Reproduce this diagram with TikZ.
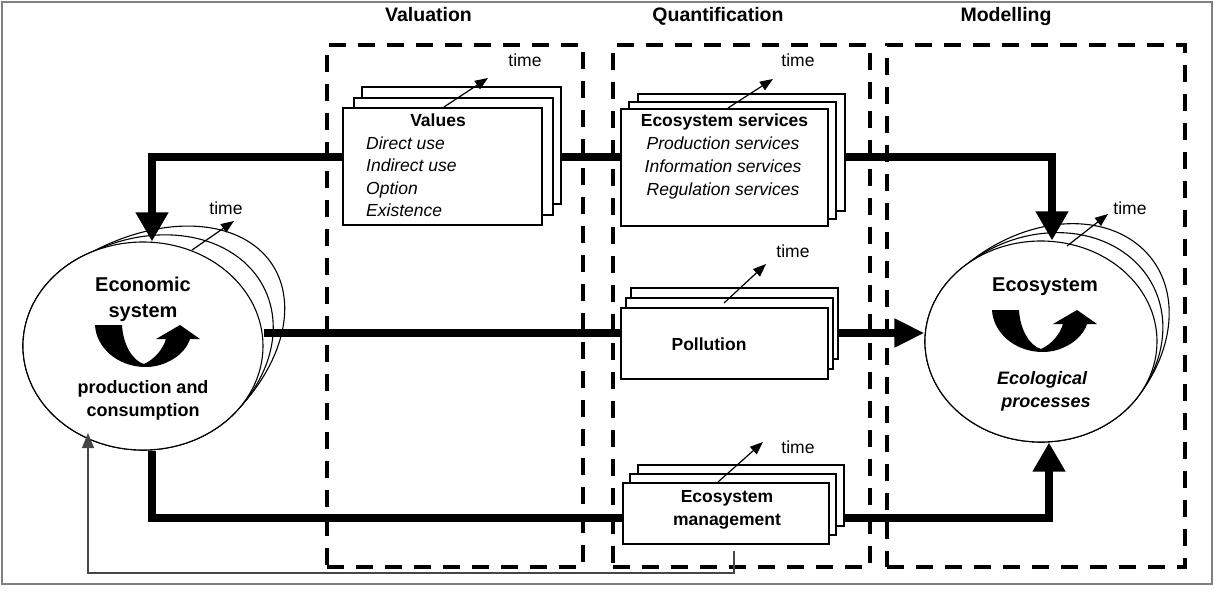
\documentclass[tikz,border=0pt]{standalone}
\usepackage{fontspec}
\setmainfont{Liberation Sans}
\usetikzlibrary{arrows.meta,shapes.geometric,calc}
\definecolor{fbgray}{RGB}{70,70,70}
% back copy of an ellipse: centre (#1,#2), radii #3,#4, stretched by factor #9
% away from the chord through (#5,#6) along the unit normal (#7,#8), on the normal side only
\newcommand\backorb[9]{%
  \draw[fill=white, line width=1.1pt] plot[domain=0:359, samples=360]
   ({#1+#3*cos(\x)+(#9-1)*max((#1+#3*cos(\x)-#5)*(#7)+(#2+#4*sin(\x)-#6)*(#8),0)*(#7)},
    {#2+#4*sin(\x)+(#9-1)*max((#1+#3*cos(\x)-#5)*(#7)+(#2+#4*sin(\x)-#6)*(#8),0)*(#8)}) -- cycle;}
\begin{document}
\begin{tikzpicture}[x=1pt,y=-1pt,
  thickline/.style={line width=7.5pt, line join=miter},
  bighead/.style={-{Triangle[length=29pt,width=31pt]}},
  dbox/.style={draw, line width=4pt, dash pattern=on 17pt off 12pt, inner sep=0pt},
  card/.style={draw, fill=white, line width=2pt, inner sep=0pt},
  orb/.style={draw, fill=white, ellipse, line width=1.1pt, inner sep=0pt},
  timearr/.style={line width=1.2pt, -{Triangle[length=13pt,width=10pt]}},
  txt/.style={font=\fontsize{17.5}{21}\selectfont, inner sep=0pt, anchor=base},
  ttl/.style={font=\fontsize{19.5}{23}\selectfont\bfseries, inner sep=0pt, anchor=base},
  big/.style={font=\fontsize{20}{24}\selectfont\bfseries, inner sep=0pt, anchor=base},
  cyc/.pic={\fill (0,0) -- (27,0) .. controls (28,20) and (38,36) .. (49,39)
      .. controls (60,34) and (68,24) .. (71,14) -- (61,14) -- (85,0) -- (105,14) -- (95,14)
      .. controls (90,30) and (70,42) .. (51,42) .. controls (22,42) and (1,22) .. (0,0) -- cycle;}
]
\useasboundingbox (0,0) rectangle (1214,593);
\draw[gray, line width=1.5pt] (2,2) rectangle (1212,584);

% dashed regions
\node[dbox, minimum width=256pt, minimum height=522pt] (valbox) at (455,306) {};
\node[dbox, minimum width=257pt, minimum height=522pt] (quabox) at (741.5,306) {};
\node[dbox, minimum width=298pt, minimum height=522pt] (modbox) at (1036,306) {};
\node[ttl] (tval) at (428.5,22) {Valuation};
\node[ttl] (tqua) at (718,22) {Quantification};
\node[ttl] (tmod) at (1006,22) {Modelling};

% anchor coordinates for connectors
\coordinate (topL) at (152,157);
\coordinate (topR) at (1052,157);
\coordinate (botL) at (152,518);
\coordinate (botR) at (1049,518);

% ellipses (back copies, then front)
\backorb{143}{346}{120}{104}{93}{251}{0.734}{-0.679}{1.45}
\backorb{143}{346}{120}{104}{93}{251}{0.734}{-0.679}{1.22}
\node[orb, minimum width=240pt, minimum height=208pt] (econ) at (143,346) {};
\backorb{1041}{341.5}{116}{100.5}{965}{262}{0.62}{-0.785}{1.32}
\backorb{1041}{341.5}{116}{100.5}{965}{262}{0.62}{-0.785}{1.16}
\node[orb, minimum width=232pt, minimum height=201pt] (eco) at (1041,341.5) {};

% thick connectors
\draw[thickline, {Triangle[length=29pt,width=31pt]}-{Triangle[length=29pt,width=31pt]}]
  (topL |- econ.north) -- (topL) -- (topR) -- (topR |- eco.north);
\draw[thickline, -{Triangle[length=30pt,width=27pt]}]
  (econ.east |- 0,333) -- (eco.west |- 0,333);
\draw[thickline, bighead]
  (botL |- econ.south) -- (botL) -- (botR) -- (botR |- eco.south);

% stacks: values
\node[card, minimum width=199pt, minimum height=117pt] (val3) at (461.5,145.5) {};
\node[card, minimum width=199pt, minimum height=117pt] (val2) at (453.5,156.5) {};
\node[card, minimum width=199pt, minimum height=117pt] (val) at (442.5,166.5) {};
% services
\node[card, minimum width=207pt, minimum height=117pt] (ser3) at (741.5,152.5) {};
\node[card, minimum width=207pt, minimum height=117pt] (ser2) at (732.5,160.5) {};
\node[card, minimum width=207pt, minimum height=117pt] (ser) at (724.5,167.5) {};
% pollution
\node[card, minimum width=207pt, minimum height=71pt] (pol3) at (734.5,323.5) {};
\node[card, minimum width=207pt, minimum height=71pt] (pol2) at (729.5,333.5) {};
\node[card, minimum width=207pt, minimum height=71pt] (pol) at (724.5,343.5) {};
% management
\node[card, minimum width=206pt, minimum height=61pt] (man3) at (741,495.5) {};
\node[card, minimum width=206pt, minimum height=61pt] (man2) at (733,504.5) {};
\node[card, minimum width=206pt, minimum height=61pt] (man) at (726,513.5) {};

% box texts
\node[txt, font=\fontsize{17.5}{21}\selectfont\bfseries] (v0) at (438,127) {Values};
\node[txt, anchor=base west, font=\fontsize{17.5}{21}\selectfont\itshape] (v1) at (366,149.5) {Direct use};
\node[txt, anchor=base west, font=\fontsize{17.5}{21}\selectfont\itshape] (v2) at (366,172) {Indirect use};
\node[txt, anchor=base west, font=\fontsize{17.5}{21}\selectfont\itshape] (v3) at (366,194.5) {Option};
\node[txt, anchor=base west, font=\fontsize{17.5}{21}\selectfont\itshape] (v4) at (366,217) {Existence};

\node[txt, font=\fontsize{17.5}{21}\selectfont\bfseries] (s0) at (724.5,127) {Ecosystem services};
\node[txt, font=\fontsize{17.5}{21}\selectfont\itshape] (s1) at (723,150) {Production services};
\node[txt, font=\fontsize{17.5}{21}\selectfont\itshape] (s2) at (723,173) {Information services};
\node[txt, font=\fontsize{17.5}{21}\selectfont\itshape] (s3) at (723,196) {Regulation services};

\node[txt, font=\fontsize{17.5}{21}\selectfont\bfseries] (p0) at (709,350) {Pollution};
\node[txt, font=\fontsize{17.5}{21}\selectfont\bfseries] (m0) at (727,502) {Ecosystem};
\node[txt, font=\fontsize{17.5}{21}\selectfont\bfseries] (m1) at (727,525) {management};

% ellipse texts
\node[big] (e0) at (143,292) {Economic};
\node[big] (e1) at (143,317) {system};
\node[txt, font=\fontsize{18}{21}\selectfont\bfseries] (e2) at (143,393) {production and};
\node[txt, font=\fontsize{18}{21}\selectfont\bfseries] (e3) at (143,416) {consumption};
\pic at (95,325) {cyc};

\node[big] (c0) at (1045,291) {Ecosystem};
\node[txt, font=\fontsize{18}{21}\selectfont\bfseries\itshape] (c1) at (1042,384) {Ecological};
\node[txt, font=\fontsize{18}{21}\selectfont\bfseries\itshape] (c2) at (1046,407) {processes};
\pic at (992,310) {cyc};

% time arrows
\draw[timearr] (444,107) -- (488,78);
\node[txt] (tv) at (525,67) {time};
\draw[timearr] (728,108) -- (773,79);
\node[txt] (ts) at (798,67) {time};
\draw[timearr] (724,303) -- (766,264);
\node[txt] (tp) at (793,258) {time};
\draw[timearr] (718,482) -- (763,442);
\node[txt] (tm) at (798,453) {time};
\draw[timearr] (192,250) -- (234,221);
\node[txt] (te) at (226,215) {time};
\draw[timearr] (1067,246) -- (1108,214);
\node[txt] (tc) at (1130,215) {time};

% feedback line
\coordinate (fb1) at (734,551);
\coordinate (fb2) at (734,573);
\coordinate (fb3) at (88,573);
\coordinate (fb4) at (88,433);
\draw[fbgray, line width=1.2pt, -{Triangle[length=15pt,width=12pt]}] (fb1) -- (fb2) -- (fb3) -- (fb4);
\end{tikzpicture}
\end{document}
